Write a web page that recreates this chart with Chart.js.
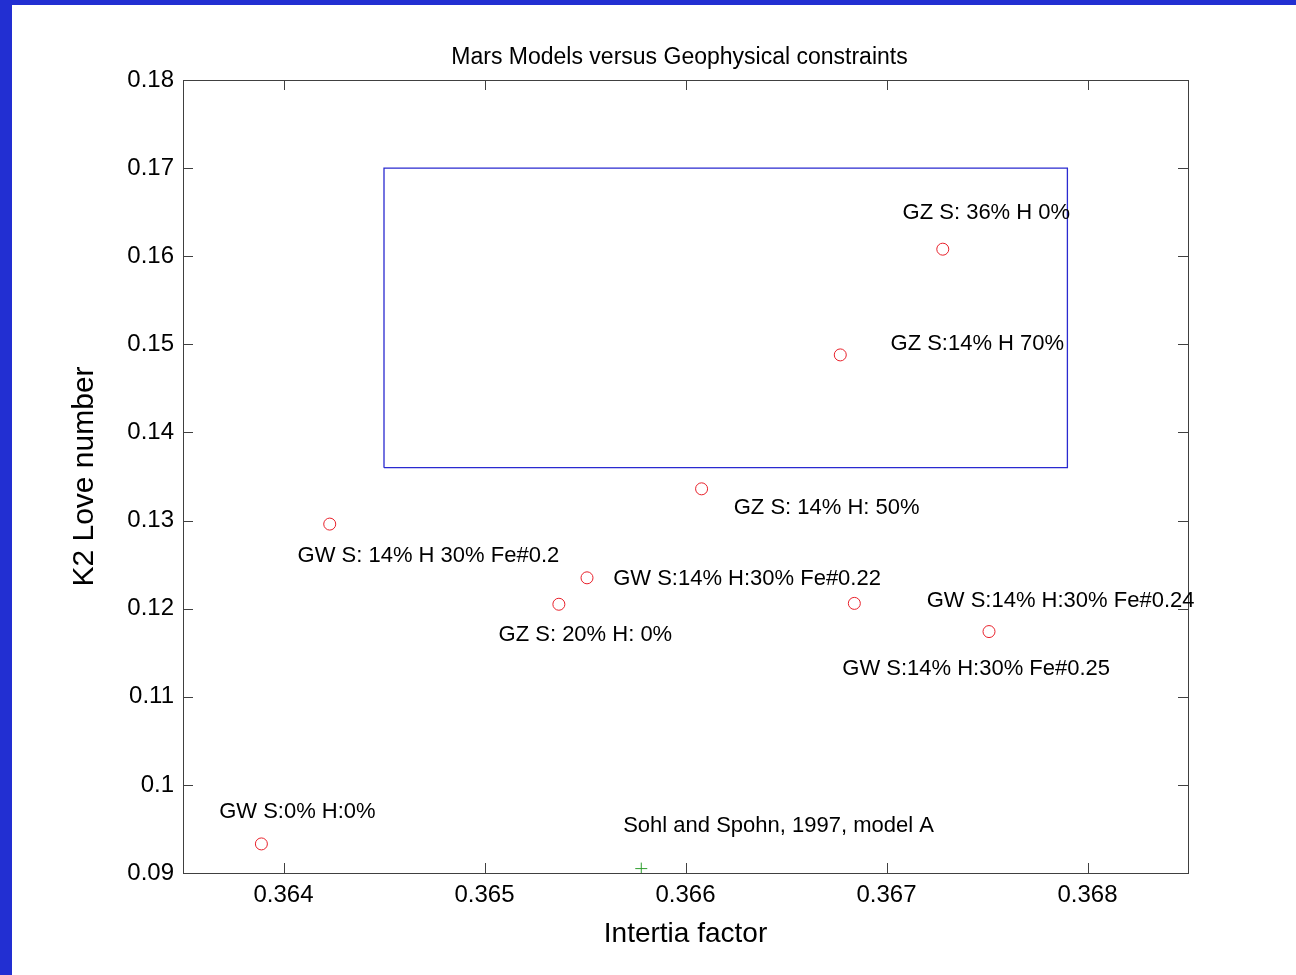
<!DOCTYPE html>
<html lang="en">
<head>
    <meta charset="UTF-8">
    <title>Mars Models versus Geophysical constraints</title>
    <script src="https://cdn.jsdelivr.net/npm/chart.js"></script>
    <style>
        html, body {
            margin: 0;
            padding: 0;
            background-color: #222fd2;
            overflow: hidden;
        }
        .frame {
            position: absolute;
            left: 12px;
            top: 5px;
            width: 1284px;
            height: 970px;
            background-color: white;
        }
        canvas {
            font-family: "Liberation Sans", Arial, sans-serif;
        }
    </style>
</head>
<body>
    <div class="frame">
        <canvas id="chart" width="1284" height="970"></canvas>
    </div>

    <script>
        // modelos (factor de inercia, numero de Love k2)
        const modelNames = [
            'GW S:0% H:0%',
            'GW S: 14% H 30% Fe#0.2',
            'GW S:14% H:30% Fe#0.22',
            'GZ S: 20% H: 0%',
            'GZ S: 14% H: 50%',
            'GZ S:14% H 70%',
            'GZ S: 36% H 0%',
            'GW S:14% H:30% Fe#0.24',
            'GW S:14% H:30% Fe#0.25'
        ];
        const inertia = [0.36389, 0.36423, 0.36551, 0.36537, 0.36608, 0.36677, 0.36728, 0.36684, 0.36751];
        const love = [0.0933, 0.1296, 0.1235, 0.1205, 0.1336, 0.1488, 0.1608, 0.1206, 0.1174];

        // donde va cada texto (en unidades de datos)
        const labelX = [0.36368, 0.36407, 0.36564, 0.36507, 0.36624, 0.36702, 0.36708, 0.3672, 0.36678];
        const labelY = [0.0969, 0.1260, 0.1234, 0.1170, 0.1314, 0.1500, 0.1649, 0.1209, 0.1132];

        // modelo de referencia
        const refName = 'Sohl and Spohn, 1997, model A';
        const refX = [0.36578];
        const refY = [0.0905];
        const refLabelX = 0.36569;
        const refLabelY = 0.0953;

        // caja de restricciones geofisicas
        const boxX = [0.3645, 0.3679, 0.3679, 0.3645, 0.3645];
        const boxY = [0.136, 0.136, 0.170, 0.170, 0.136];

        const xTicks = [0.364, 0.365, 0.366, 0.367, 0.368];
        const xTickLabels = ['0.364', '0.365', '0.366', '0.367', '0.368'];
        const yTicks = [0.09, 0.10, 0.11, 0.12, 0.13, 0.14, 0.15, 0.16, 0.17, 0.18];
        const yTickLabels = ['0.09', '0.1', '0.11', '0.12', '0.13', '0.14', '0.15', '0.16', '0.17', '0.18'];

        const FONT = '"Liberation Sans", Arial, sans-serif';

        // marco, ticks hacia dentro, titulo y textos
        const matlabAxes = {
            id: 'matlabAxes',
            afterDraw(chart) {
                const ctx = chart.ctx;
                const a = chart.chartArea;
                const xs = chart.scales.x;
                const ys = chart.scales.y;
                ctx.save();
                ctx.strokeStyle = '#404040';
                ctx.lineWidth = 1;
                ctx.strokeRect(a.left + 0.5, a.top + 0.5, a.right - a.left, a.bottom - a.top);
                ctx.beginPath();
                xTicks.forEach(v => {
                    const px = Math.round(xs.getPixelForValue(v)) + 0.5;
                    ctx.moveTo(px, a.bottom);
                    ctx.lineTo(px, a.bottom - 10);
                    ctx.moveTo(px, a.top);
                    ctx.lineTo(px, a.top + 10);
                });
                yTicks.forEach(v => {
                    const py = Math.round(ys.getPixelForValue(v)) + 0.5;
                    ctx.moveTo(a.left, py);
                    ctx.lineTo(a.left + 10, py);
                    ctx.moveTo(a.right, py);
                    ctx.lineTo(a.right - 10, py);
                });
                ctx.stroke();

                ctx.fillStyle = '#000';
                ctx.font = '23px ' + FONT;
                ctx.textAlign = 'center';
                ctx.textBaseline = 'middle';
                ctx.fillText('Mars Models versus Geophysical constraints', (a.left + a.right) / 2 - 6, 53);

                ctx.textAlign = 'left';
                ctx.font = '22px ' + FONT;
                modelNames.forEach((name, i) => {
                    ctx.fillText(name, xs.getPixelForValue(labelX[i]), ys.getPixelForValue(labelY[i]));
                });
                ctx.fillText(refName, xs.getPixelForValue(refLabelX), ys.getPixelForValue(refLabelY));
                ctx.restore();
            }
        };

        const chart = new Chart(document.getElementById('chart'), {
            type: 'scatter',
            data: {
                datasets: [
                    {
                        label: 'constraints',
                        data: boxX.map((x, i) => ({x: x, y: boxY[i]})),
                        showLine: true,
                        borderColor: '#2a2ad0',
                        borderWidth: 1.3,
                        pointRadius: 0,
                        fill: false
                    },
                    {
                        label: 'models',
                        data: inertia.map((x, i) => ({x: x, y: love[i]})),
                        pointStyle: 'circle',
                        pointRadius: 6,
                        borderColor: '#e8202a',
                        borderWidth: 1,
                        backgroundColor: 'rgba(0,0,0,0)'
                    },
                    {
                        label: refName,
                        data: refX.map((x, i) => ({x: x, y: refY[i]})),
                        pointStyle: 'cross',
                        pointRadius: 6,
                        borderColor: '#2e9e2e',
                        borderWidth: 1
                    }
                ]
            },
            options: {
                responsive: false,
                animation: false,
                events: [],
                layout: {
                    padding: {top: 75, right: 108, left: 0, bottom: 0}
                },
                plugins: {
                    legend: {display: false},
                    tooltip: {enabled: false},
                    title: {display: false}
                },
                scales: {
                    x: {
                        type: 'linear',
                        min: 0.3635,
                        max: 0.3685,
                        afterBuildTicks: s => { s.ticks = xTicks.map(v => ({value: v})); },
                        afterFit: s => { s.height = 102; },
                        grid: {display: false, drawTicks: false},
                        border: {display: false},
                        ticks: {
                            padding: 8,
                            color: '#000',
                            font: {family: FONT, size: 24},
                            maxRotation: 0,
                            callback: (v, i) => xTickLabels[i]
                        },
                        title: {
                            display: true,
                            text: 'Intertia factor',
                            color: '#000',
                            font: {family: FONT, size: 28},
                            padding: {top: 0, bottom: 24}
                        }
                    },
                    y: {
                        type: 'linear',
                        min: 0.09,
                        max: 0.18,
                        afterBuildTicks: s => { s.ticks = yTicks.map(v => ({value: v})); },
                        afterFit: s => { s.width = 171; },
                        grid: {display: false, drawTicks: false},
                        border: {display: false},
                        ticks: {
                            padding: 9,
                            color: '#000',
                            font: {family: FONT, size: 24},
                            callback: (v, i) => yTickLabels[i]
                        },
                        title: {
                            display: true,
                            text: 'K2 Love number',
                            color: '#000',
                            font: {family: FONT, size: 30},
                            padding: {top: 55, bottom: 0}
                        }
                    }
                }
            },
            plugins: [matlabAxes]
        });
    </script>
</body>
</html>
